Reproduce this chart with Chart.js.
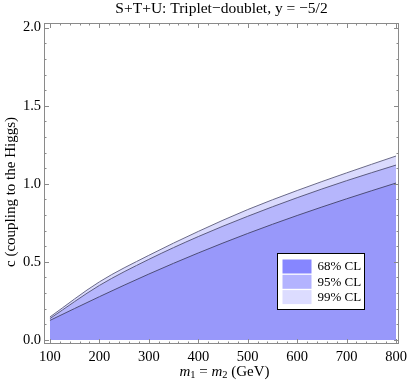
<!DOCTYPE html>
<html>
<head>
<meta charset="utf-8">
<script src="https://cdn.jsdelivr.net/npm/chart.js@4/dist/chart.umd.min.js"></script>
<style>
html,body{margin:0;padding:0;background:#fff;}
#wrap{width:407px;height:386px;}
</style>
</head>
<body>
<div id="wrap"><canvas id="c" width="407" height="386"></canvas></div>
<script>
const titleText = "S+T+U: Triplet\u2212doublet, y = \u22125/2";
const yTitle = "c (coupling to the Higgs)";
const mass = [100, 200, 300, 400, 500, 600, 700, 800];
const cl68 = [0.125, 0.277, 0.422, 0.557, 0.682, 0.797, 0.904, 1.005];
const cl95 = [0.137, 0.349, 0.516, 0.662, 0.792, 0.911, 1.02, 1.12];
const cl99 = [0.147, 0.372, 0.542, 0.695, 0.835, 0.957, 1.07, 1.178];
const xTicks = [100, 200, 300, 400, 500, 600, 700, 800];
const xMinor = [];
for (let v = 100; v <= 800; v += 20) xMinor.push(v);
const yTicks = [0, 0.5, 1.0, 1.5, 2.0];
const yMinor = [];
for (let i = 0; i <= 20; i++) yMinor.push(i / 10);
const legendLabels = ["68% CL", "95% CL", "99% CL"];
const legendColors = ["#8686ff", "#b3b3ff", "#dcdcff"];
const fillColors = ["rgb(152,152,250)", "rgb(182,182,252)", "rgb(218,218,253)"];

const SERIF = "'Liberation Serif', 'DejaVu Serif', serif";

function pts(ys) { return mass.map((m, i) => ({x: m, y: ys[i]})); }

const framePlugin = {
  id: 'frame',
  afterDatasetsDraw(chart) {
    const ctx = chart.ctx, a = chart.chartArea;
    const xs = chart.scales.x, ys = chart.scales.y;
    ctx.save();
    ctx.strokeStyle = '#8a8a8a';
    ctx.lineWidth = 1;
    ctx.strokeRect(Math.round(a.left) + 0.5, Math.round(a.top) + 0.5,
                   Math.round(a.right - a.left) - 1, Math.round(a.bottom - a.top) - 1);
    ctx.beginPath();
    xMinor.forEach(v => {
      const px = Math.round(xs.getPixelForValue(v)) + 0.5;
      const len = xTicks.includes(v) ? 5 : 2.5;
      ctx.moveTo(px, a.bottom); ctx.lineTo(px, a.bottom - len);
      ctx.moveTo(px, a.top); ctx.lineTo(px, a.top + len);
    });
    yMinor.forEach(v => {
      const py = Math.round(ys.getPixelForValue(v)) + 0.5;
      const len = (Math.abs(v * 2 - Math.round(v * 2)) < 1e-6) ? 5 : 2.5;
      ctx.moveTo(a.left, py); ctx.lineTo(a.left + len, py);
      ctx.moveTo(a.right, py); ctx.lineTo(a.right - len, py);
    });
    ctx.stroke();
    ctx.restore();
  },
  afterDraw(chart) {
    const ctx = chart.ctx, a = chart.chartArea;
    ctx.save();
    // y axis title
    ctx.save();
    ctx.translate(11, 192);
    ctx.rotate(-Math.PI / 2);
    ctx.font = '15px ' + SERIF;
    ctx.fillStyle = '#000';
    ctx.textAlign = 'center';
    ctx.textBaseline = 'middle';
    ctx.fillText(yTitle, 0, 0);
    ctx.restore();
    // x axis title with italic m and subscripts
    const cy = 372;
    const parts = [
      {t: 'm', f: 'italic 15px ' + SERIF, dy: 0},
      {t: '1', f: '10.5px ' + SERIF, dy: 3.5},
      {t: ' = ', f: '15px ' + SERIF, dy: 0},
      {t: 'm', f: 'italic 15px ' + SERIF, dy: 0},
      {t: '2', f: '10.5px ' + SERIF, dy: 3.5},
      {t: ' (GeV)', f: '15px ' + SERIF, dy: 0}
    ];
    let total = 0;
    parts.forEach(p => { ctx.font = p.f; p.w = ctx.measureText(p.t).width; total += p.w; });
    let x = (a.left + a.right) / 2 + 3 - total / 2;
    ctx.fillStyle = '#000';
    ctx.textBaseline = 'middle';
    ctx.textAlign = 'left';
    parts.forEach(p => { ctx.font = p.f; ctx.fillText(p.t, x, cy + p.dy); x += p.w; });

    // legend box
    const w = a.right - a.left, h = a.bottom - a.top;
    const bx = Math.round(a.left + 0.655 * w) + 0.5;
    const by = Math.round(a.top + 0.716 * h) + 0.5;
    const bw = 87, bh = 56;
    ctx.fillStyle = '#fff';
    ctx.fillRect(bx, by, bw, bh);
    ctx.strokeStyle = '#000';
    ctx.lineWidth = 1;
    ctx.strokeRect(bx, by, bw, bh);
    ctx.font = '13px ' + SERIF;
    legendLabels.forEach((lab, i) => {
      const ry = by + 6 + i * 15.3;
      ctx.fillStyle = legendColors[i];
      ctx.fillRect(bx + 5, ry, 29, 14);
      ctx.fillStyle = '#000';
      ctx.fillText(lab, bx + 40, ry + 7.5);
    });
    ctx.restore();
  }
};

new Chart(document.getElementById('c'), {
  type: 'line',
  data: {
    datasets: [
      {label: legendLabels[0], data: pts(cl68), backgroundColor: fillColors[0], borderColor: '#4d4d78', borderWidth: 1, fill: 'origin', pointRadius: 0, cubicInterpolationMode: 'monotone'},
      {label: legendLabels[1], data: pts(cl95), backgroundColor: fillColors[1], borderColor: '#5c5c80', borderWidth: 1, fill: 'origin', pointRadius: 0, cubicInterpolationMode: 'monotone'},
      {label: legendLabels[2], data: pts(cl99), backgroundColor: fillColors[2], borderColor: '#6a6a88', borderWidth: 1, fill: 'origin', pointRadius: 0, cubicInterpolationMode: 'monotone'}
    ]
  },
  options: {
    responsive: false,
    animation: false,
    devicePixelRatio: 1,
    layout: {padding: {left: 0, right: 8, top: 0, bottom: 0}},
    plugins: {
      legend: {display: false},
      tooltip: {enabled: false},
      title: {
        display: true,
        fullSize: false,
        text: titleText,
        color: '#000',
        font: {family: SERIF, size: 15.5, weight: 'normal'},
        padding: {top: 0, bottom: 4.4}
      }
    },
    scales: {
      x: {
        type: 'linear',
        min: 88, max: 806,
        grid: {display: false, drawTicks: false},
        border: {display: false},
        ticks: {color: '#000', font: {family: SERIF, size: 14.5}, padding: 4, autoSkip: false, maxRotation: 0},
        afterBuildTicks(s) { s.ticks = xTicks.map(v => ({value: v})); },
        afterFit(s) { s.height = 42; s.paddingLeft = 0; s.paddingRight = 0; }
      },
      y: {
        type: 'linear',
        min: -0.026, max: 2.03,
        grid: {display: false, drawTicks: false},
        border: {display: false},
        ticks: {color: '#000', font: {family: SERIF, size: 14.5}, padding: 3, autoSkip: false,
                callback: v => v.toFixed(1)},
        afterBuildTicks(s) { s.ticks = yTicks.map(v => ({value: v})); },
        afterFit(s) { s.width = 44; s.paddingTop = 0; s.paddingBottom = 0; }
      }
    }
  },
  plugins: [framePlugin]
});
</script>
</body>
</html>
